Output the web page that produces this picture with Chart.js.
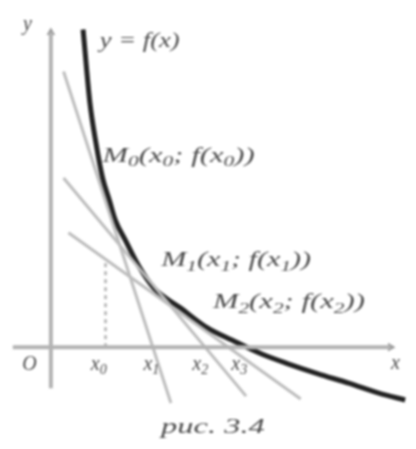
<!DOCTYPE html>
<html>
<head>
<meta charset="utf-8">
<script src="https://cdn.jsdelivr.net/npm/chart.js@4.4.1/dist/chart.umd.min.js"></script>
<style>
html, body { margin: 0; padding: 0; background: #fff; }
#fig { display: block; filter: blur(0.9px); }
</style>
</head>
<body>
<canvas id="fig" width="416" height="449"></canvas>
<script>
// curve y = f(x) (1 unit ~ 10px)
const curveX = [3.3, 4.0, 4.6, 5.3, 6.0, 6.6, 7.6, 9.0, 10.6, 13.3, 16.0, 18.6, 21.6, 24.3, 27.3, 30.6, 33.6, 36.3];
const curveY = [32.5, 25.0, 21.0, 17.3, 15.0, 13.0, 11.0, 8.3, 6.0, 4.0, 2.0, 0.7, -0.7, -1.7, -2.7, -3.7, -4.7, -5.4];

// tangents at M0, M1, M2 (end points)
const tan0X = [1.3, 12.3], tan0Y = [28.2, -5.7];
const tan1X = [1.3, 20.0], tan1Y = [17.3, -5.0];
const tan2X = [1.8, 25.6], tan2Y = [11.7, -5.3];

// dotted drop line at x0
const dropX = [5.6, 5.6], dropY = [0, 9.0];

// axes
const axisXX = [-3.9, 34.8], axisXY = [0, 0];
const axisYX = [0, 0], axisYY = [-4.2, 32.2];

// tick labels on the x axis
const tickLabels = ['x_0', 'x_1', 'x_2', 'x_3'];
const tickPos = [4.9, 10.3, 15.3, 19.3];

const pointLabels = ['M_0(x_0; f(x_0))', 'M_1(x_1; f(x_1))', 'M_2(x_2; f(x_2))'];
const curveLabel = 'y = f(x)';
const caption = 'рис. 3.4';

function pts(xs, ys) {
    return xs.map((x, i) => ({x: x, y: ys[i]}));
}

// where the texts go (data units) and how wide they should come out
const notes = [
    {text: 'y', x: -2.4, y: 33.0, size: 20, align: 'center'},
    {text: curveLabel, x: 5.0, y: 31.2, size: 20, width: 80},
    {text: pointLabels[0], x: 5.3, y: 19.5, size: 20, width: 152},
    {text: pointLabels[1], x: 11.3, y: 8.8, size: 20, width: 150},
    {text: pointLabels[2], x: 16.6, y: 4.5, size: 20, width: 152},
    {text: 'O', x: -2.2, y: -1.8, size: 20, align: 'center'},
    {text: 'x', x: 35.3, y: -1.7, size: 20, align: 'center'},
    {text: caption, x: 16.6, y: -8.2, size: 20, align: 'center', width: 104},
];
tickLabels.forEach((t, i) => {
    notes.push({text: t, x: tickPos[i], y: -1.8, size: 20, align: 'center'});
});

function parts(str) {
    let out = [];
    for (let i = 0; i < str.length; i++) {
        if (str[i] === '_') {
            out.push({t: str[i + 1], sub: true});
            i++;
        } else if (out.length && !out[out.length - 1].sub) {
            out[out.length - 1].t += str[i];
        } else {
            out.push({t: str[i], sub: false});
        }
    }
    return out;
}

function drawRich(ctx, n) {
    const ps = parts(n.text);
    const main = 'italic ' + n.size + 'px "Liberation Serif", serif';
    const small = 'italic ' + Math.round(n.size * 0.68) + 'px "Liberation Serif", serif';
    let w0 = 0;
    ps.forEach(p => {
        ctx.font = p.sub ? small : main;
        p.w = ctx.measureText(p.t).width;
        w0 += p.w;
    });
    const sx = n.width ? n.width / w0 : 1;
    ctx.save();
    ctx.translate(n.px, n.py);
    ctx.scale(sx, 1);
    let cx = n.align === 'center' ? -w0 / 2 : 0;
    ps.forEach(p => {
        ctx.font = p.sub ? small : main;
        ctx.fillText(p.t, cx, p.sub ? n.size * 0.3 : 0);
        cx += p.w;
    });
    ctx.restore();
}

const labelPlugin = {
    id: 'labels',
    afterDatasetsDraw(chart) {
        const ctx = chart.ctx;
        ctx.save();
        ctx.fillStyle = '#4a4a4a';
        ctx.textBaseline = 'middle';
        ctx.textAlign = 'left';
        notes.forEach(n => {
            n.px = chart.scales.x.getPixelForValue(n.x);
            n.py = chart.scales.y.getPixelForValue(n.y);
            drawRich(ctx, n);
        });
        ctx.restore();
    }
};

const grey = '#bdbdbd';

new Chart(document.getElementById('fig'), {
    type: 'scatter',
    data: {
        datasets: [
            {data: pts(axisXX, axisXY), showLine: true, borderColor: '#b3b3b3', borderWidth: 4},
            {data: pts(axisYX, axisYY), showLine: true, borderColor: '#b3b3b3', borderWidth: 4},
            {
                data: [{x: axisXX[1], y: 0}, {x: 0, y: axisYY[1]}],
                pointStyle: 'triangle', pointRadius: 5, rotation: [90, 0],
                backgroundColor: '#999', borderColor: '#999', borderWidth: 0,
            },
            {data: pts(tan0X, tan0Y), showLine: true, borderColor: grey, borderWidth: 3},
            {data: pts(tan1X, tan1Y), showLine: true, borderColor: grey, borderWidth: 3},
            {data: pts(tan2X, tan2Y), showLine: true, borderColor: grey, borderWidth: 3},
            {data: pts(dropX, dropY), showLine: true, borderColor: grey, borderWidth: 3, borderDash: [4, 4]},
            {
                data: pts(curveX, curveY), showLine: true, borderColor: '#222', borderWidth: 5,
                cubicInterpolationMode: 'monotone',
            },
        ]
    },
    options: {
        responsive: false,
        animation: false,
        devicePixelRatio: 1,
        layout: {padding: 0},
        elements: {point: {radius: 0}},
        plugins: {legend: {display: false}, tooltip: {enabled: false}},
        scales: {
            x: {type: 'linear', min: -4.7, max: 36.9, display: false},
            y: {type: 'linear', min: -9.9, max: 35.0, display: false},
        }
    },
    plugins: [labelPlugin]
});
</script>
</body>
</html>
